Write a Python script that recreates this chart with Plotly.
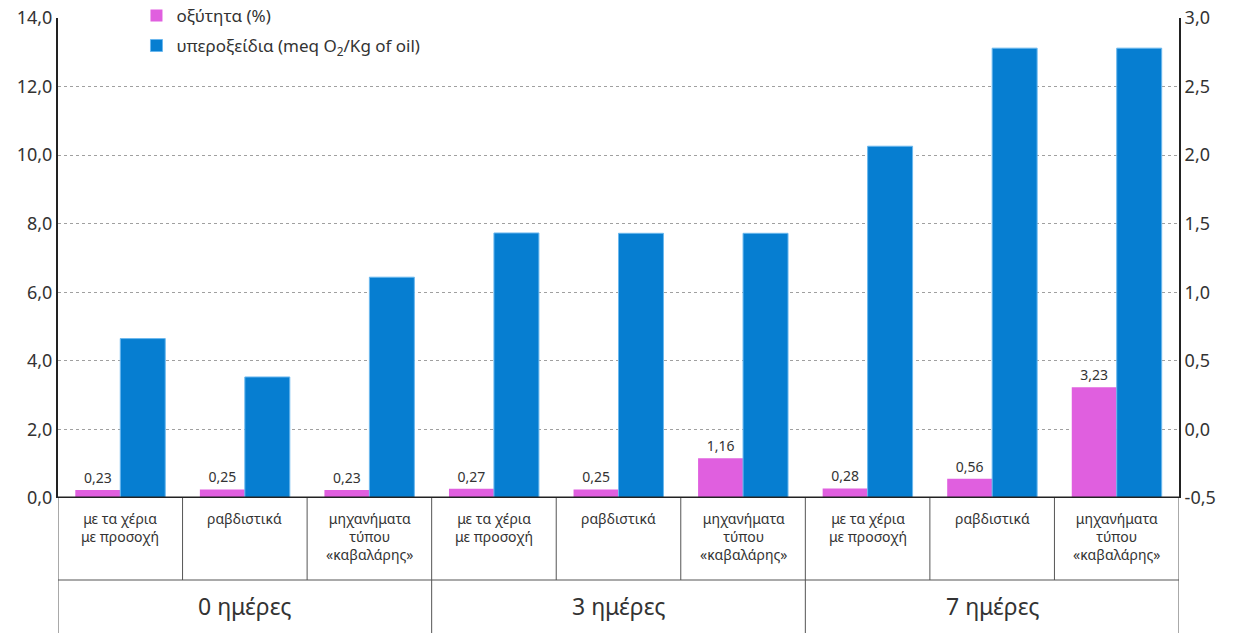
import plotly.graph_objects as go

methods = ["με τα χέρια<br>με προσοχή", "ραβδιστικά", "μηχανήματα<br>τύπου<br>«καβαλάρης»"]
groups = ["0 ημέρες", "3 ημέρες", "7 ημέρες"]
acidity = [0.23, 0.25, 0.23, 0.27, 0.25, 1.16, 0.28, 0.56, 3.23]
peroxides = [4.65, 3.53, 6.44, 7.73, 7.72, 7.72, 10.26, 13.12, 13.12]
left_ticks = [0, 2, 4, 6, 8, 10, 12, 14]
right_ticks = [-0.5, 0.0, 0.5, 1.0, 1.5, 2.0, 2.5, 3.0]

PINK = "#E05FDF"
BLUE = "#067ED1"
FONT = "Noto Sans"

xs = list(range(len(acidity)))

fig = go.Figure()
fig.add_trace(go.Bar(
    x=xs, y=acidity, name="οξύτητα (%)", legendgroup="a",
    marker=dict(color=PINK, line=dict(width=0)),
    texttemplate="%{y:.2f}", textposition="outside",
    textfont=dict(size=14, color="#333333", family=FONT), cliponaxis=False,
))
fig.add_trace(go.Bar(
    x=xs, y=peroxides, name="υπεροξείδια (meq O<sub>2</sub>/Kg of oil)", legendgroup="b",
    marker=dict(color=BLUE, line=dict(width=1, color="#6BB8EE")),
))
# invisible trace to anchor the right axis
fig.add_trace(go.Scatter(x=[xs[0]], y=[right_ticks[0]], yaxis="y2", mode="markers",
                         marker=dict(opacity=0), showlegend=False, hoverinfo="skip"))

n = len(acidity)
H = 480.0
row1 = -82 / H
bottom = -140 / H
shapes = []
line_c = "#555555"
for i in range(n + 1):
    shapes.append(dict(type="line", xref="x", yref="paper", x0=i - 0.5, x1=i - 0.5,
                       y0=0, y1=row1, line=dict(color=line_c, width=1)))
shapes.append(dict(type="line", xref="x", yref="paper", x0=-0.5, x1=n - 0.5,
                   y0=row1, y1=row1, line=dict(color=line_c, width=1)))
for g in range(len(groups) + 1):
    xv = g * len(methods) - 0.5
    shapes.append(dict(type="line", xref="x", yref="paper", x0=xv, x1=xv,
                       y0=row1, y1=bottom, line=dict(color=line_c, width=1)))

annotations = []
for i in range(n):
    annotations.append(dict(x=i, y=-9 / H, xref="x", yref="paper", yanchor="top",
                            text=methods[i % len(methods)], showarrow=False,
                            font=dict(size=14, color="#333333", family=FONT)))
for g, name in enumerate(groups):
    annotations.append(dict(x=g * len(methods) + 1, y=-108 / H, xref="x", yref="paper",
                            yanchor="middle", text=name, showarrow=False,
                            font=dict(size=23, color="#333333", family=FONT)))

fig.update_layout(
    width=1233, height=633,
    margin=dict(l=58, r=54, t=18, b=135, autoexpand=False),
    plot_bgcolor="white", paper_bgcolor="white",
    barmode="group", bargap=0.278, bargroupgap=0,
    separators=",.",
    font=dict(family=FONT, color="#333333"),
    showlegend=True,
    legend=dict(x=0.07, y=1.042, xanchor="left", yanchor="top",
                font=dict(size=17, color="#333333", family=FONT),
                bgcolor="rgba(0,0,0,0)", tracegroupgap=5),
    xaxis=dict(range=[-0.5, n - 0.5], showticklabels=False, showgrid=False,
               zeroline=False, showline=False, ticks=""),
    yaxis=dict(range=[0, 14], tickvals=left_ticks,
               ticktext=[f"{v:.1f}".replace(".", ",") for v in left_ticks],
               showgrid=True, gridcolor="#a0a0a0", griddash="dot", gridwidth=1,
               zeroline=False, showline=True, linecolor="#222222", linewidth=2,
               tickfont=dict(size=18, color="#333333", family=FONT), ticks="", ticklen=0),
    yaxis2=dict(range=[-0.5, 3.0], overlaying="y", side="right", tickvals=right_ticks,
                ticktext=[f"{v:.1f}".replace(".", ",") for v in right_ticks],
                showgrid=False, zeroline=False, showline=True, linecolor="#222222",
                linewidth=2, tickfont=dict(size=18, color="#333333", family=FONT)),
    shapes=shapes + [dict(type="line", xref="x", yref="y", x0=-0.5, x1=n - 0.5, y0=0, y1=0,
                          line=dict(color="#222222", width=3))],
    annotations=annotations,
)

fig.write_html("out.html")
